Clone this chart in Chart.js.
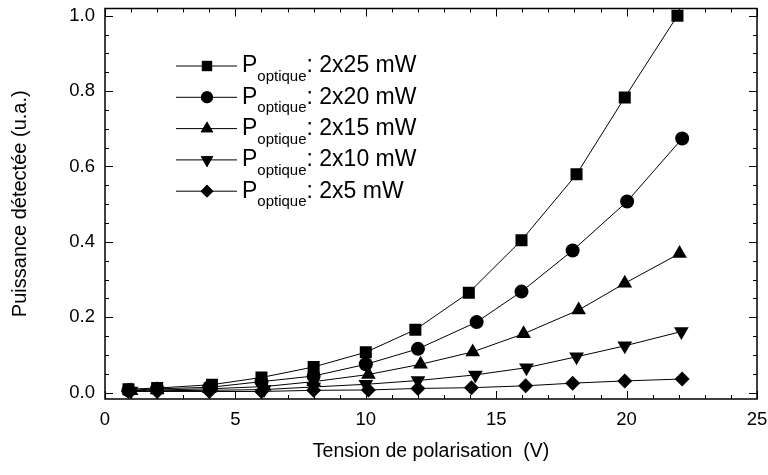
<!DOCTYPE html>
<html>
<head>
<meta charset="utf-8">
<script src="https://cdn.jsdelivr.net/npm/chart.js@4/dist/chart.umd.min.js"></script>
<style>
  body { margin: 0; background: #fff; }
  #wrap { width: 768px; height: 475px; }
</style>
</head>
<body>
<div id="wrap"><canvas id="myChart"></canvas></div>
<script>
// Tension de polarisation (V) pour chaque série
const xCarre   = [0.9, 2.0, 4.1, 6.0, 8.0, 10.0, 11.9, 13.95, 15.97, 18.08, 19.93, 21.95];
const xRond    = [0.9, 2.0, 4.0, 6.0, 8.0, 10.0, 12.0, 14.25, 15.97, 17.93, 20.02, 22.13];
const xTriHaut = [1.0, 2.0, 4.0, 6.1, 8.0, 10.1, 12.1, 14.1, 16.05, 18.16, 19.93, 22.03];
const xTriBas  = [1.0, 2.0, 4.0, 6.1, 8.0, 10.0, 12.0, 14.2, 16.16, 18.08, 19.93, 22.1];
const xLosange = [0.9, 2.0, 4.0, 6.0, 8.0, 10.1, 12.0, 14.05, 16.13, 17.93, 19.93, 22.13];

// Puissance détectée (u.a.)
const yCarre   = [0.009, 0.012, 0.021, 0.040, 0.068, 0.107, 0.167, 0.265, 0.404, 0.579, 0.783, 1.0];
const yRond    = [0.006, 0.010, 0.014, 0.029, 0.044, 0.075, 0.116, 0.187, 0.268, 0.377, 0.507, 0.674];
const yTriHaut = [0.005, 0.007, 0.010, 0.016, 0.029, 0.048, 0.075, 0.108, 0.156, 0.219, 0.290, 0.369];
const yTriBas  = [0.004, 0.005, 0.006, 0.008, 0.015, 0.022, 0.032, 0.047, 0.066, 0.095, 0.124, 0.162];
const yLosange = [0.003, 0.003, 0.003, 0.003, 0.006, 0.007, 0.011, 0.013, 0.018, 0.025, 0.031, 0.036];

const puissances = ["2x25 mW", "2x20 mW", "2x15 mW", "2x10 mW", "2x5 mW"];

const xTicks = [0, 5, 10, 15, 20, 25];
const yTicks = [0.0, 0.2, 0.4, 0.6, 0.8, 1.0];

function points(xs, ys) {
  return xs.map((x, i) => ({ x: x, y: ys[i] }));
}

function serie(label, xs, ys, style, radius, rotation) {
  return {
    label: label,
    data: points(xs, ys),
    borderColor: "#000",
    backgroundColor: "#000",
    borderWidth: 1,
    pointStyle: style,
    pointRadius: radius,
    pointRotation: rotation || 0,
    pointBorderWidth: 0,
    fill: false,
    tension: 0
  };
}

const FONT = "'Liberation Sans', Arial, sans-serif";

// Cadre + graduations vers l'intérieur + légende avec indice
const cadrePlugin = {
  id: "cadre",
  afterDraw(chart) {
    const ctx = chart.ctx;
    const a = chart.chartArea;
    const sx = chart.scales.x, sy = chart.scales.y;
    ctx.save();
    ctx.strokeStyle = "#000";
    ctx.lineWidth = 1.5;
    ctx.strokeRect(a.left, a.top, a.right - a.left, a.bottom - a.top);
    ctx.lineWidth = 1;
    ctx.beginPath();
    for (let v = 0; v <= 25; v++) {
      const px = Math.round(sx.getPixelForValue(v)) + 0.5;
      const len = v % 5 === 0 ? 8 : 4;
      ctx.moveTo(px, a.bottom); ctx.lineTo(px, a.bottom - len);
      ctx.moveTo(px, a.top); ctx.lineTo(px, a.top + len);
    }
    for (let k = 0; k <= 20; k++) {
      const v = k * 0.05;
      const py = Math.round(sy.getPixelForValue(v)) + 0.5;
      const len = k % 4 === 0 ? 8 : 4;
      ctx.moveTo(a.left, py); ctx.lineTo(a.left + len, py);
      ctx.moveTo(a.right, py); ctx.lineTo(a.right - len, py);
    }
    ctx.stroke();

    // légende
    chart.data.datasets.forEach((ds, i) => {
      const y = 66 + i * 31.3;
      ctx.strokeStyle = "#000";
      ctx.lineWidth = 1;
      ctx.beginPath();
      ctx.moveTo(176, y); ctx.lineTo(237, y);
      ctx.stroke();
      ctx.fillStyle = "#000";
      Chart.helpers.drawPoint(ctx, {
        pointStyle: ds.pointStyle,
        rotation: ds.pointRotation,
        radius: ds.pointRadius * 0.85,
        borderWidth: 0
      }, 207, y);
      ctx.fill();
      ctx.textBaseline = "middle";
      ctx.textAlign = "left";
      ctx.font = "23px " + FONT;
      ctx.fillText("P", 242, y);
      const wP = ctx.measureText("P").width;
      ctx.font = "15px " + FONT;
      ctx.fillText("optique", 242 + wP, y + 11);
      const wS = ctx.measureText("optique").width;
      ctx.font = "23px " + FONT;
      ctx.fillText(": " + puissances[i], 242 + wP + wS, y);
    });
    ctx.restore();
  }
};

new Chart(document.getElementById("myChart"), {
  type: "line",
  data: {
    datasets: [
      serie("2x25", xCarre, yCarre, "rect", 8.5),
      serie("2x20", xRond, yRond, "circle", 7),
      serie("2x15", xTriHaut, yTriHaut, "triangle", 8.5),
      serie("2x10", xTriBas, yTriBas, "triangle", 8.5, 180),
      serie("2x5", xLosange, yLosange, "rectRot", 7.5)
    ]
  },
  options: {
    responsive: true,
    maintainAspectRatio: false,
    animation: false,
    layout: { padding: { left: 0, right: 11, top: 5, bottom: 0 } },
    plugins: {
      legend: { display: false },
      tooltip: { enabled: false }
    },
    scales: {
      x: {
        type: "linear",
        min: 0,
        max: 25,
        afterBuildTicks: s => { s.ticks = xTicks.map(v => ({ value: v })); },
        afterFit: s => { s.height = 76; s.paddingLeft = 0; s.paddingRight = 0; },
        grid: { display: false, drawTicks: false },
        border: { display: false },
        ticks: {
          color: "#000",
          padding: 10,
          maxRotation: 0,
          font: { family: FONT, size: 18.5 }
        },
        title: {
          display: true,
          text: "Tension de polarisation  (V)",
          color: "#000",
          font: { family: FONT, size: 19.5 },
          padding: { top: 4, bottom: 12 }
        }
      },
      y: {
        type: "linear",
        min: -0.017,
        max: 1.019,
        afterBuildTicks: s => { s.ticks = yTicks.map(v => ({ value: v })); },
        afterFit: s => { s.width = 105; s.paddingTop = 0; s.paddingBottom = 0; },
        grid: { display: false, drawTicks: false },
        border: { display: false },
        ticks: {
          color: "#000",
          padding: 10,
          font: { family: FONT, size: 18.5 },
          callback: v => v.toFixed(1)
        },
        title: {
          display: true,
          text: "Puissance détectée (u.a.)",
          color: "#000",
          font: { family: FONT, size: 20 },
          padding: { top: 8, bottom: 4 }
        }
      }
    }
  },
  plugins: [cadrePlugin]
});
</script>
</body>
</html>
